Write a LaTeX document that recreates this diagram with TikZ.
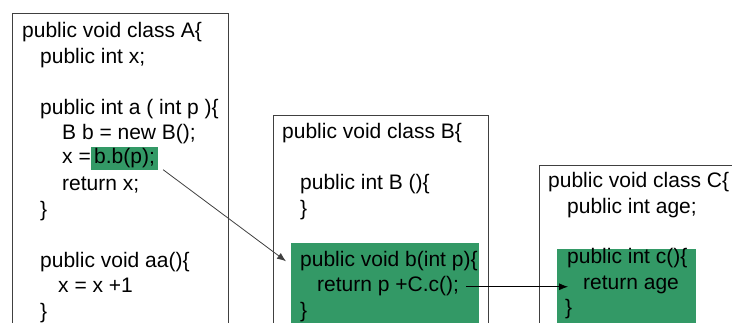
\documentclass[tikz,border=0pt]{standalone}
\usepackage{fontspec}
\setmainfont{Liberation Sans}
\usetikzlibrary{arrows.meta}
\definecolor{codegreen}{HTML}{339966}
\definecolor{linegray}{HTML}{404040}

\begin{document}
\begin{tikzpicture}[x=1pt,y=-1pt,>/.tip={Latex[length=9pt,width=7pt]},
	classbox/.style={draw=linegray,line width=0.9pt,anchor=north west,inner sep=0pt},
	greenbox/.style={fill=codegreen,anchor=north west,inner sep=0pt},
	code/.style={anchor=base west,inner sep=0pt,text height=15pt,text depth=4.5pt,font=\fontsize{21}{25}\selectfont}]
	\useasboundingbox (0,0) rectangle (732,323);

	\draw (12,13) node (boxa) [classbox,minimum width=216pt,minimum height=340pt] {};
	\draw (273,115) node (boxb) [classbox,minimum width=215pt,minimum height=240pt] {};
	\draw (539,165) node (boxc) [classbox,minimum width=215pt,minimum height=190pt] {};
	\draw (291,243) node (greenb) [greenbox,minimum width=188pt,minimum height=100pt] {};
	\draw (557,249) node (greenc) [greenbox,minimum width=139pt,minimum height=100pt] {};

	\draw (22,38) node (aclass) [code] {public void class A\{};
	\draw (40,63.5) node (ax) [code] {public int x;};
	\draw (40,114.5) node (afun) [code] {public int a ( int p )\{};
	\draw (62,140) node (anew) [code] {B b = new B();};
	\draw (62,164) node (aset) [code] {x =};
	\draw (91,164) node (bbp) [code,fill=codegreen,inner xsep=3pt,inner ysep=2pt] {b.b(p);};
	\draw (62,191) node (aret) [code] {return x;};
	\draw (40,216.5) node (aend) [code] {\}};
	\draw (40,267.5) node (aafun) [code] {public void aa()\{};
	\draw (58,293) node (ainc) [code] {x = x +1};
	\draw (40,318.5) node (aaend) [code] {\}};

	\draw (282,139) node (bclass) [code] {public void class B\{};
	\draw (300,190) node (bcons) [code] {public int B ()\{};
	\draw (300,215.5) node (bconsend) [code] {\}};
	\draw (300,266.5) node (bfun) [code] {public void b(int p)\{};
	\draw (317,292) node (bret) [code] {return p +C.c();};
	\draw (300,317.5) node (bend) [code] {\}};

	\draw (548,188) node (cclass) [code] {public void class C\{};
	\draw (567,213.5) node (cage) [code] {public int age;};
	\draw (567,264) node (cfun) [code] {public int c()\{};
	\draw (583,289.5) node (cret) [code] {return age};
	\draw (565,315) node (cend) [code] {\}};

	\draw[->,linegray,line width=0.8pt] ([xshift=5pt,yshift=1pt]bbp.south east) -- ([xshift=-14pt]bfun.west);
	\draw[->,black,line width=0.8pt] ([xshift=7pt]bret.east) -- ([xshift=-15pt]bret.east -| cret.west);
\end{tikzpicture}
\end{document}
